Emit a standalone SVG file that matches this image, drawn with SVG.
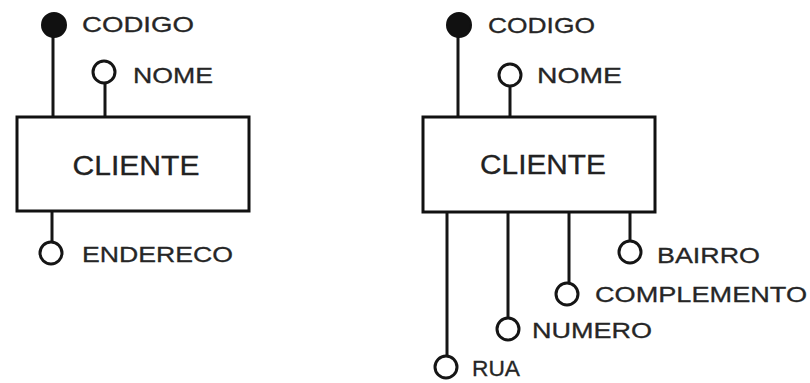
<svg xmlns="http://www.w3.org/2000/svg" width="810" height="383" viewBox="0 0 810 383">
  <style>
    .box { fill: #fff; stroke: #111; stroke-width: 3; }
    .link { stroke: #151515; stroke-width: 3; fill: none; }
    .key { fill: #111; stroke: #111; stroke-width: 2; }
    .attr { fill: #fff; stroke: #151515; stroke-width: 3; }
    .lbl { font-family: "Liberation Sans", Arial, sans-serif; font-size: 22px; fill: #262626; dominant-baseline: central; stroke: #262626; stroke-width: 0.3; }
    .ent { font-family: "Liberation Sans", Arial, sans-serif; font-size: 27px; fill: #222; text-anchor: middle; dominant-baseline: central; stroke: #222; stroke-width: 0.3; }
  </style>
  <rect width="810" height="383" fill="#fff"/>

  <!-- connectors -->
  <g id="connectors">
    <!-- left model -->
    <line class="link" x1="53" y1="36" x2="53" y2="117"/>
    <line class="link" x1="105" y1="83" x2="105" y2="117"/>
    <line class="link" x1="52" y1="211" x2="52" y2="242"/>
    <!-- right model -->
    <line class="link" x1="458" y1="36" x2="458" y2="117"/>
    <line class="link" x1="510" y1="86" x2="510" y2="117"/>
    <line class="link" x1="447" y1="212" x2="447" y2="356"/>
    <line class="link" x1="508" y1="212" x2="508" y2="318"/>
    <line class="link" x1="569" y1="212" x2="569" y2="283"/>
    <line class="link" x1="630" y1="212" x2="630" y2="241"/>
  </g>

  <!-- left model -->
  <g id="cliente-a">
    <rect class="box" x="17" y="117" width="232" height="94"/>
    <text class="ent" x="136" y="166" textLength="127" lengthAdjust="spacingAndGlyphs">CLIENTE</text>
  </g>
  <g id="codigo-a">
    <circle class="key" cx="54" cy="25" r="12"/>
    <text class="lbl" x="82" y="24" textLength="112" lengthAdjust="spacingAndGlyphs">CODIGO</text>
  </g>
  <g id="nome-a">
    <circle class="attr" cx="104" cy="72" r="11"/>
    <text class="lbl" x="133" y="75" textLength="80" lengthAdjust="spacingAndGlyphs">NOME</text>
  </g>
  <g id="endereco-a">
    <circle class="attr" cx="51" cy="253" r="11"/>
    <text class="lbl" x="82" y="254" textLength="151" lengthAdjust="spacingAndGlyphs">ENDERECO</text>
  </g>

  <!-- right model -->
  <g id="cliente-b">
    <rect class="box" x="423" y="117" width="232" height="95"/>
    <text class="ent" x="543" y="165" textLength="126" lengthAdjust="spacingAndGlyphs">CLIENTE</text>
  </g>
  <g id="codigo-b">
    <circle class="key" cx="459" cy="25" r="12"/>
    <text class="lbl" x="488" y="25" textLength="107" lengthAdjust="spacingAndGlyphs">CODIGO</text>
  </g>
  <g id="nome-b">
    <circle class="attr" cx="510" cy="75" r="11"/>
    <text class="lbl" x="537" y="75" textLength="85" lengthAdjust="spacingAndGlyphs">NOME</text>
  </g>
  <g id="bairro-b">
    <circle class="attr" cx="630" cy="252" r="11"/>
    <text class="lbl" x="657" y="255" textLength="103" lengthAdjust="spacingAndGlyphs">BAIRRO</text>
  </g>
  <g id="complemento-b">
    <circle class="attr" cx="567" cy="294" r="11"/>
    <text class="lbl" x="595" y="294" textLength="212" lengthAdjust="spacingAndGlyphs">COMPLEMENTO</text>
  </g>
  <g id="numero-b">
    <circle class="attr" cx="508" cy="329" r="11"/>
    <text class="lbl" x="532" y="330" textLength="120" lengthAdjust="spacingAndGlyphs">NUMERO</text>
  </g>
  <g id="rua-b">
    <circle class="attr" cx="446" cy="367" r="11"/>
    <text class="lbl" x="472" y="368" textLength="48" lengthAdjust="spacingAndGlyphs">RUA</text>
  </g>
</svg>
